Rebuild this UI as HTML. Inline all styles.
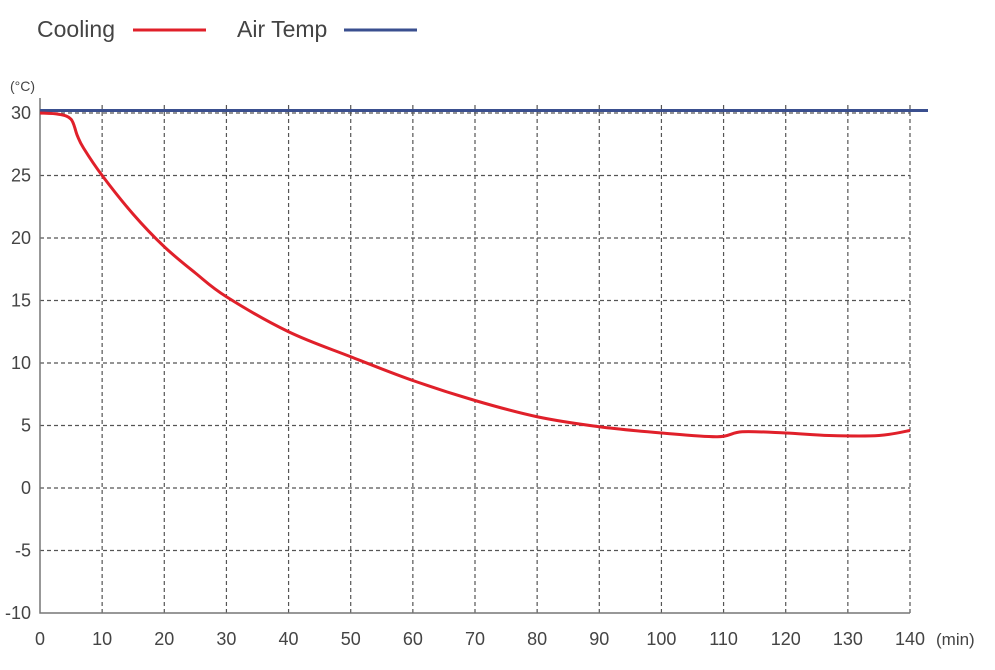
<!DOCTYPE html>
<html><head><meta charset="utf-8"><style>
body{margin:0;background:#fff;}
svg{font-family:"Liberation Sans",sans-serif;}
</style></head><body>
<svg width="995" height="665" id="c">
<g>
<text x="37" y="37" font-size="23" fill="#444">Cooling</text>
<line x1="133" y1="30" x2="206" y2="30" stroke="#e0202a" stroke-width="3"/>
<text x="237" y="37" font-size="23" fill="#444">Air Temp</text>
<line x1="344" y1="30" x2="417" y2="30" stroke="#3a4f8f" stroke-width="3"/>
</g>
<text x="10" y="91" font-size="14" fill="#444">(°C)</text>
<text x="936" y="645" font-size="17" fill="#444">(min)</text>
<g id="grid"></g><g id="marks"></g>
</svg>
<script>
const xTicks=[0,10,20,30,40,50,60,70,80,90,100,110,120,130,140];
const yTicks=[30,25,20,15,10,5,0,-5,-10];
const coolX=[0,3,5,6,7,10,15,20,25,30,40,50,60,70,80,90,100,109,113,120,127,135,140];
const coolY=[30.0,29.9,29.5,28.2,27.2,25,21.9,19.3,17.2,15.3,12.5,10.5,8.6,7,5.7,4.9,4.4,4.1,4.5,4.4,4.2,4.2,4.6];
const airTemp=30.2;
const NS='http://www.w3.org/2000/svg';
const sx=v=>40+v*(910-40)/140;
const sy=v=>613-(v+10)*12.5;
const grid=document.getElementById('grid'),marks=document.getElementById('marks');
function mk(t,a,p){const e=document.createElementNS(NS,t);for(const k in a)e.setAttribute(k,a[k]);p.appendChild(e);return e;}
xTicks.forEach(v=>{
 if(v>0){const l=mk('line',{x1:sx(v),x2:sx(v),y1:sy(30)-8,y2:sy(-10),stroke:'#555','stroke-width':1.2,'stroke-dasharray':'4,3'},grid);
 
 }
 const t=mk('text',{x:sx(v),y:645,'font-size':18,fill:'#444','text-anchor':'middle'},grid);t.textContent=v;
 
 
});
yTicks.forEach(v=>{
 if(v>-10){const l=mk('line',{x1:40,x2:910,y1:sy(v),y2:sy(v),stroke:'#555','stroke-width':1.2,'stroke-dasharray':'4,3'},grid);
 
 }
 const t=mk('text',{x:31,y:sy(v)+6,'font-size':18,fill:'#444','text-anchor':'end'},grid);t.textContent=v;
 
 
});
const ax=mk('path',{d:`M40,${sy(30)-15}V${sy(-10)}H910`,fill:'none',stroke:'#777','stroke-width':1.5},grid);


const air=mk('line',{x1:40,x2:928,y1:sy(airTemp),y2:sy(airTemp),stroke:'#3a4f8f','stroke-width':3},marks);


const pts=coolX.map((x,i)=>[sx(x),sy(coolY[i])]);
let d='M'+pts[0].join(',');
for(let i=0;i<pts.length-1;i++){const p0=pts[Math.max(0,i-1)],p1=pts[i],p2=pts[i+1],p3=pts[Math.min(pts.length-1,i+2)];
 d+=`C${p1[0]+(p2[0]-p0[0])/6},${p1[1]+(p2[1]-p0[1])/6} ${p2[0]-(p3[0]-p1[0])/6},${p2[1]-(p3[1]-p1[1])/6} ${p2[0]},${p2[1]}`;}
const cl=mk('path',{d:d,fill:'none',stroke:'#e0202a','stroke-width':3},marks);


</script>
</body></html>
